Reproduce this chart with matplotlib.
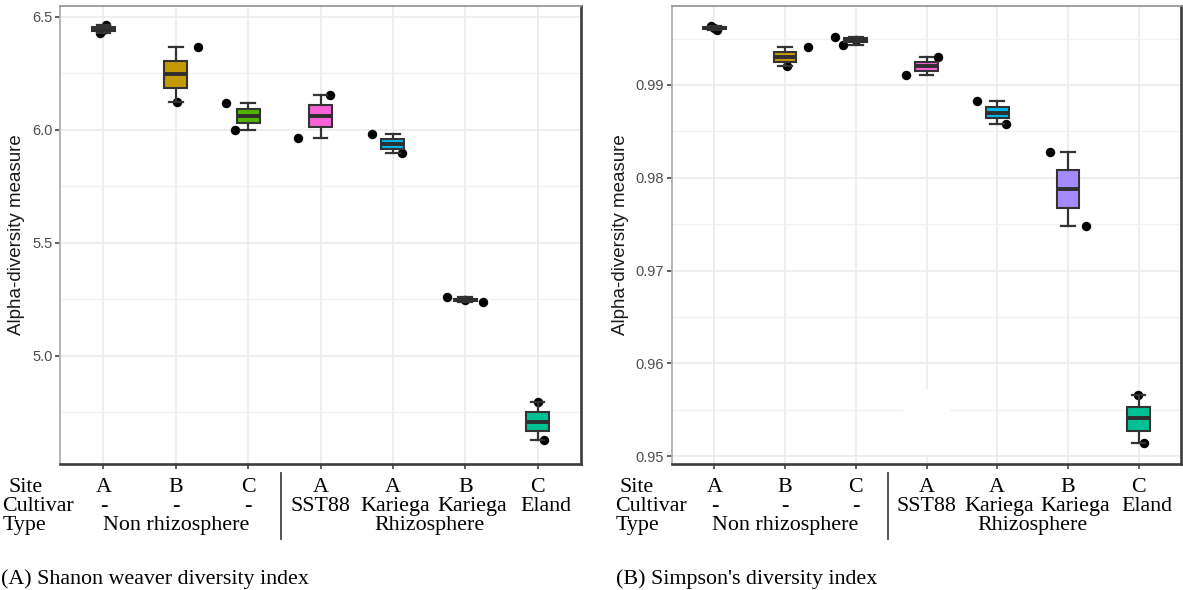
import matplotlib
matplotlib.use("Agg")
import matplotlib.pyplot as plt
import matplotlib.transforms as mtransforms
from matplotlib.patches import Rectangle

# ---- data -------------------------------------------------------------
sites = ["A", "B", "C", "A", "A", "B", "C"]
cultivars = ["-", "-", "-", "SST88", "Kariega", "Kariega", "Eland"]
soil_types = ["Non rhizosphere", "Rhizosphere"]
type_groups = [(1, 3), (4, 7)]
box_colors = ["#F8766D", "#C49A00", "#53B400", "#FB61D7",
              "#00B6EB", "#A58AFF", "#00C094"]

# Shannon-Weaver index, three replicates per sample group
shannon = [
    [6.429, 6.444, 6.462],
    [6.125, 6.247, 6.366],
    [5.999, 6.062, 6.120],
    [5.965, 6.062, 6.154],
    [5.898, 5.936, 5.980],
    [5.240, 5.249, 5.259],
    [4.627, 4.710, 4.795],
]
shannon_jitter = [
    [-0.05, 0.0, 0.03],
    [0.01, 0.0, 0.31],
    [-0.185, 0.0, -0.30],
    [-0.31, 0.0, 0.13],
    [0.12, 0.0, -0.29],
    [0.24, 0.0, -0.255],
    [0.085, 0.0, 0.0],
]
shannon_ticks = [5.0, 5.5, 6.0, 6.5]
shannon_tick_labels = ["5.0", "5.5", "6.0", "6.5"]

# Simpson index, three replicates per sample group
simpson = [
    [0.99596, 0.99618, 0.99632],
    [0.9920, 0.9930, 0.9941],
    [0.9943, 0.9949, 0.9952],
    [0.9911, 0.9920, 0.9930],
    [0.9858, 0.9870, 0.9883],
    [0.9748, 0.9788, 0.9828],
    [0.9514, 0.9541, 0.9566],
]
simpson_jitter = [
    [0.04, 0.0, -0.05],
    [0.03, 0.0, 0.325],
    [-0.18, 0.0, -0.30],
    [-0.29, 0.0, 0.16],
    [0.12, 0.0, -0.29],
    [0.25, 0.0, -0.25],
    [0.08, 0.0, -0.01],
]
simpson_ticks = [0.95, 0.96, 0.97, 0.98, 0.99]
simpson_tick_labels = ["0.95", "0.96", "0.97", "0.98", "0.99"]

captions = ["(A) Shanon weaver diversity index", "(B) Simpson's diversity index"]

# ---- figure -----------------------------------------------------------
W, H = 1183, 590
fig = plt.figure(figsize=(W / 100, H / 100), dpi=100)
fig.patch.set_facecolor("white")

SANS = ["Liberation Sans", "DejaVu Sans"]
SERIF = ["Liberation Serif", "DejaVu Serif"]
TABLE_FS = 15.8


def fy(px):
    return 1 - px / H


def panel(left_px, right_px, values, jitter, ylim, ticks, tick_labels, minor):
    ax = fig.add_axes([left_px / W, fy(464), (right_px - left_px) / W, (464 - 6) / H])
    n = len(values)
    positions = list(range(1, n + 1))

    # replicate points (beneath the boxes)
    for i, (vals, jit) in enumerate(zip(values, jitter)):
        xs = [positions[i] + j for j in jit]
        ax.plot(xs, vals, "o", color="black", markersize=6.8, zorder=3,
                markeredgewidth=0)

    bp = ax.boxplot(values, positions=positions, widths=0.32, patch_artist=True,
                    showfliers=False, capwidths=0.19, zorder=4,
                    medianprops=dict(color="#2E2E2E", linewidth=2.8),
                    whiskerprops=dict(color="#333333", linewidth=1.6),
                    capprops=dict(color="#333333", linewidth=1.6),
                    boxprops=dict(edgecolor="#333333", linewidth=1.5))
    for patch, c in zip(bp["boxes"], box_colors):
        patch.set_facecolor(c)

    ax.set_xlim(0.4, n + 0.6)
    ax.set_ylim(*ylim)
    ax.set_yticks(ticks)
    ax.set_yticklabels(tick_labels, family=SANS, fontsize=10.5, color="#4D4D4D")
    ax.set_yticks(minor, minor=True)
    ax.set_xticks(positions)
    ax.set_xticklabels([])
    ax.tick_params(axis="both", which="major", length=3.5, width=1.1,
                   color="#333333", pad=2)
    ax.tick_params(axis="y", which="minor", length=0)

    ax.grid(True, which="major", color="#EBEBEB", linewidth=1.2)
    ax.grid(True, which="minor", axis="y", color="#F1F1F1", linewidth=0.9)
    ax.set_axisbelow(True)

    ax.spines["top"].set_color("#9A9A9A")
    ax.spines["left"].set_color("#B0B0B0")
    ax.spines["bottom"].set_color("#3C3C3C")
    ax.spines["right"].set_color("#3C3C3C")
    ax.spines["top"].set_linewidth(1.3)
    ax.spines["left"].set_linewidth(1.3)
    ax.spines["bottom"].set_linewidth(1.9)
    ax.spines["right"].set_linewidth(1.9)

    ax.set_ylabel("Alpha-diversity measure", family=SANS, fontsize=13.5,
                  color="#1A1A1A", labelpad=5)
    return ax


def table(ax, label_x_px, sep_x, caption, caption_x_px):
    tr = mtransforms.blended_transform_factory(ax.transData, fig.transFigure)
    rows_y = [492, 511, 530]
    kw = dict(family=SERIF, fontsize=TABLE_FS, color="black", va="baseline")

    for name, dx, y in zip(["Site", "Cultivar", "Type"], label_x_px, rows_y):
        fig.text(dx / W, fy(y), name, ha="left", **kw)

    shifts = [0, 0, 0, 0, 0.03, 0.1, 0.12]
    for i, (s, c) in enumerate(zip(sites, cultivars)):
        x = i + 1
        ax.text(x, fy(rows_y[0]), s, transform=tr, ha="center", **kw)
        ax.text(x + shifts[i], fy(rows_y[1]), c, transform=tr, ha="center", **kw)

    for name, (a, b) in zip(soil_types, type_groups):
        ax.text((a + b) / 2, fy(rows_y[2]), name, transform=tr, ha="center", **kw)

    ax.plot([sep_x, sep_x], [fy(473), fy(539)], transform=tr, color="#444444",
            linewidth=1.3, clip_on=False)

    fig.text(caption_x_px / W, fy(584), caption, ha="left", **kw)


ax1 = panel(60, 581, shannon, shannon_jitter, (4.522, 6.548),
            shannon_ticks, shannon_tick_labels, [4.75, 5.25, 5.75, 6.25])
ax2 = panel(672, 1181, simpson, simpson_jitter, (0.94917, 0.99851),
            simpson_ticks, simpson_tick_labels, [0.955, 0.965, 0.975, 0.985, 0.995])

# small blank patches where the grid of panel B is interrupted
for (x0, y0, x1, y1) in [(919, 389, 935, 455), (903, 404, 950, 415)]:
    ax2.add_patch(Rectangle(((x0 - 672) / 509, (464 - y1) / 458),
                            (x1 - x0) / 509, (y1 - y0) / 458,
                            transform=ax2.transAxes, facecolor="white",
                            edgecolor="none", zorder=1))

table(ax1, [9, 2, 3], 3.45, captions[0], 1)
table(ax2, [620, 615, 616], 3.46, captions[1], 616)

fig.savefig("out.png", dpi=100, facecolor="white")
